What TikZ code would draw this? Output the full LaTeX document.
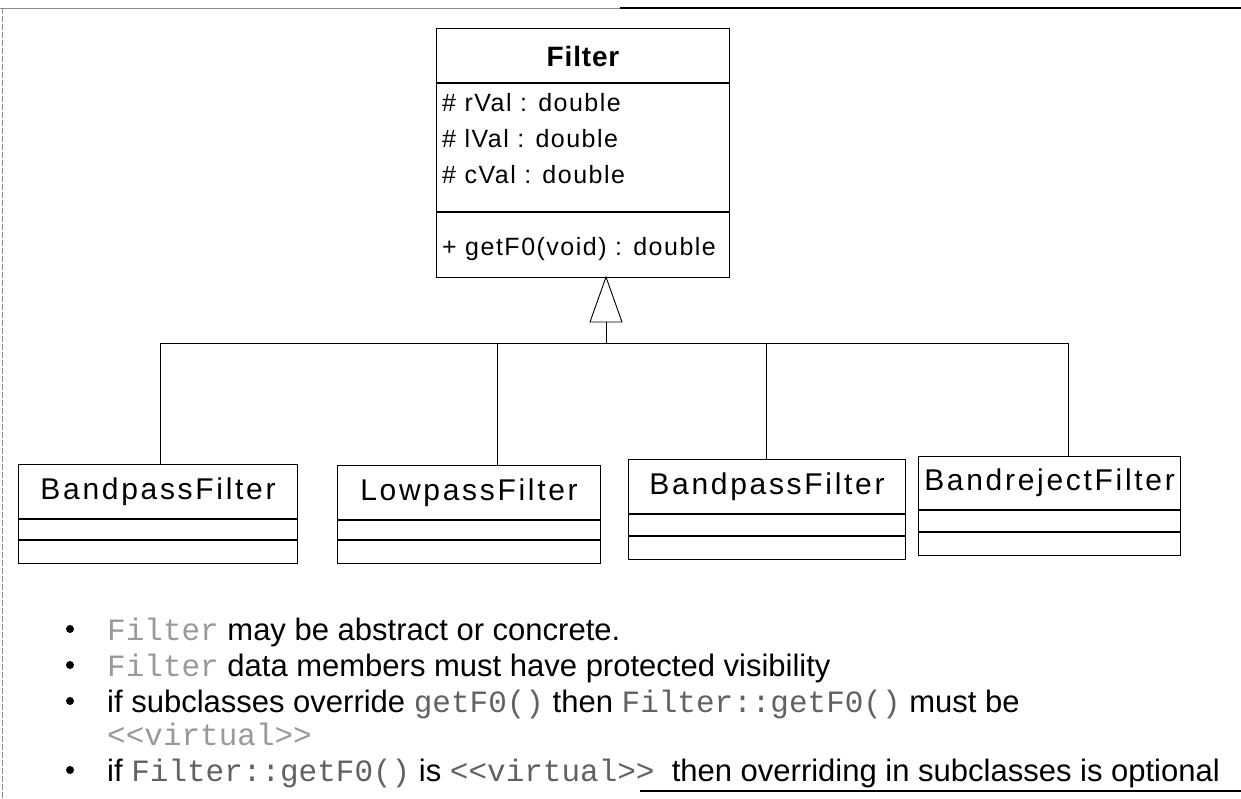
\documentclass[tikz,border=0pt]{standalone}
\usepackage{fontspec}
\setmainfont{Liberation Sans}
\setmonofont{Liberation Mono}
\newfontfamily\classfont[LetterSpace=9]{Liberation Sans}
\newfontfamily\memberfont[LetterSpace=6]{Liberation Sans}
\newfontfamily\titlefont[LetterSpace=3]{Liberation Sans}
\newcommand\codefaint[1]{{\ttfamily\color{black!40}#1}}
\newcommand\codemid[1]{{\ttfamily\color{black!62}#1}}
\tikzset{
  classbox/.style={draw, line width=1.1pt, inner sep=0pt, anchor=north west},
  classname/.style={inner sep=0pt, font=\classfont\fontsize{30}{36}\selectfont},
  titlename/.style={inner sep=0pt, font=\titlefont\bfseries\fontsize{28}{34}\selectfont},
  member/.style={anchor=base west, inner sep=0pt, font=\memberfont\fontsize{25}{30}\selectfont},
  note/.style={anchor=base west, inner sep=0pt, font=\fontsize{31}{36}\selectfont},
  dot/.style={circle, fill=black, inner sep=0pt, minimum size=8pt},
  link/.style={line width=0.9pt},
  sep/.style={line width=1.1pt}
}
\begin{document}
\begin{tikzpicture}[x=1pt,y=-1pt]
\useasboundingbox (0,0) rectangle (1241,799);
% page frame
\draw[black!45, line width=0.8pt] (0,8) -- (620,8);
\draw[line width=1.6pt] (620,8) -- (1241,8);
\draw[black!45, line width=0.6pt, dash pattern=on 6pt off 2pt] (2,8) -- (2,799);
\draw[line width=1.6pt] (640,791) -- (1241,791);

% base class
\node[classbox, minimum width=293pt, minimum height=249pt] (filter) at (436,28) {};
\draw[sep] (filter.north west) ++(0,55) -- ++(293,0);
\draw[sep] (filter.north west) ++(0,184) -- ++(293,0);
\path (filter.north) ++(0,28) node[titlename] (filtername) {Filter};
\node[member] (rval) at (442,112) {\# rVal : double};
\node[member] (lval) at (442,148) {\# lVal : double};
\node[member] (cval) at (442,184) {\# cVal : double};
\node[member] (getf) at (442,256) {+ getF0(void) : double};

% subclasses
\node[classbox, minimum width=279pt, minimum height=99pt] (bp1) at (18,464) {};
\draw[sep] (bp1.north west) ++(0,55) -- ++(279,0);
\draw[sep] (bp1.north west) ++(0,76) -- ++(279,0);
\path (bp1.north) ++(0,28) node[classname] (bp1name) {BandpassFilter};

\node[classbox, minimum width=263pt, minimum height=98pt] (lp) at (337,465) {};
\draw[sep] (lp.north west) ++(0,55) -- ++(263,0);
\draw[sep] (lp.north west) ++(0,75) -- ++(263,0);
\path (lp.north) ++(0,28) node[classname] (lpname) {LowpassFilter};

\node[classbox, minimum width=277pt, minimum height=100pt] (bp2) at (628,459) {};
\draw[sep] (bp2.north west) ++(0,55) -- ++(277,0);
\draw[sep] (bp2.north west) ++(0,77) -- ++(277,0);
\path (bp2.north) ++(0,28) node[classname] (bp2name) {BandpassFilter};

\node[classbox, minimum width=262pt, minimum height=99pt] (br) at (918,456) {};
\draw[sep] (br.north west) ++(0,54) -- ++(262,0);
\draw[sep] (br.north west) ++(0,76) -- ++(262,0);
\path (br.north) ++(0,27) node[classname] (brname) {BandrejectFilter};

% generalization
\coordinate (apex) at (606,277);
\coordinate (tribase) at (606,322);
\coordinate (hub) at (606,343);
\coordinate (j1) at (160,343);
\coordinate (j2) at (497,343);
\coordinate (j3) at (766,343);
\coordinate (j4) at (1068,343);
\draw[link, fill=white] (apex) -- ++(-16,45) -- ++(32,0) -- cycle;
\draw[link] (tribase) -- (hub);
\draw[link] (j1) -- (j4);
\draw[link] (j1) -- (j1 |- bp1.north);
\draw[link] (j2) -- (j2 |- lp.north);
\draw[link] (j3) -- (j3 |- bp2.north);
\draw[link] (j4) -- (j4 |- br.north);

% notes
\node[dot] (d1) at (70,629) {};
\node[note] (n1) at (107,640) {\codefaint{Filter} may be abstract or concrete.};
\node[dot] (d2) at (70,665) {};
\node[note] (n2) at (107,676) {\codefaint{Filter} data members must have protected visibility};
\node[dot] (d3) at (70,701) {};
\node[note] (n3) at (107,712) {if subclasses override \codemid{getF0()} then \codemid{Filter::getF0()} must be};
\node[note] (n4) at (107,745) {\codefaint{{<}{<}virtual{>}{>}}};
\node[dot] (d5) at (70,770) {};
\node[note] (n5) at (107,781) {if \codemid{Filter::getF0()} is \codemid{{<}{<}virtual{>}{>}}\ \ then overriding in subclasses is optional};
\end{tikzpicture}
\end{document}
